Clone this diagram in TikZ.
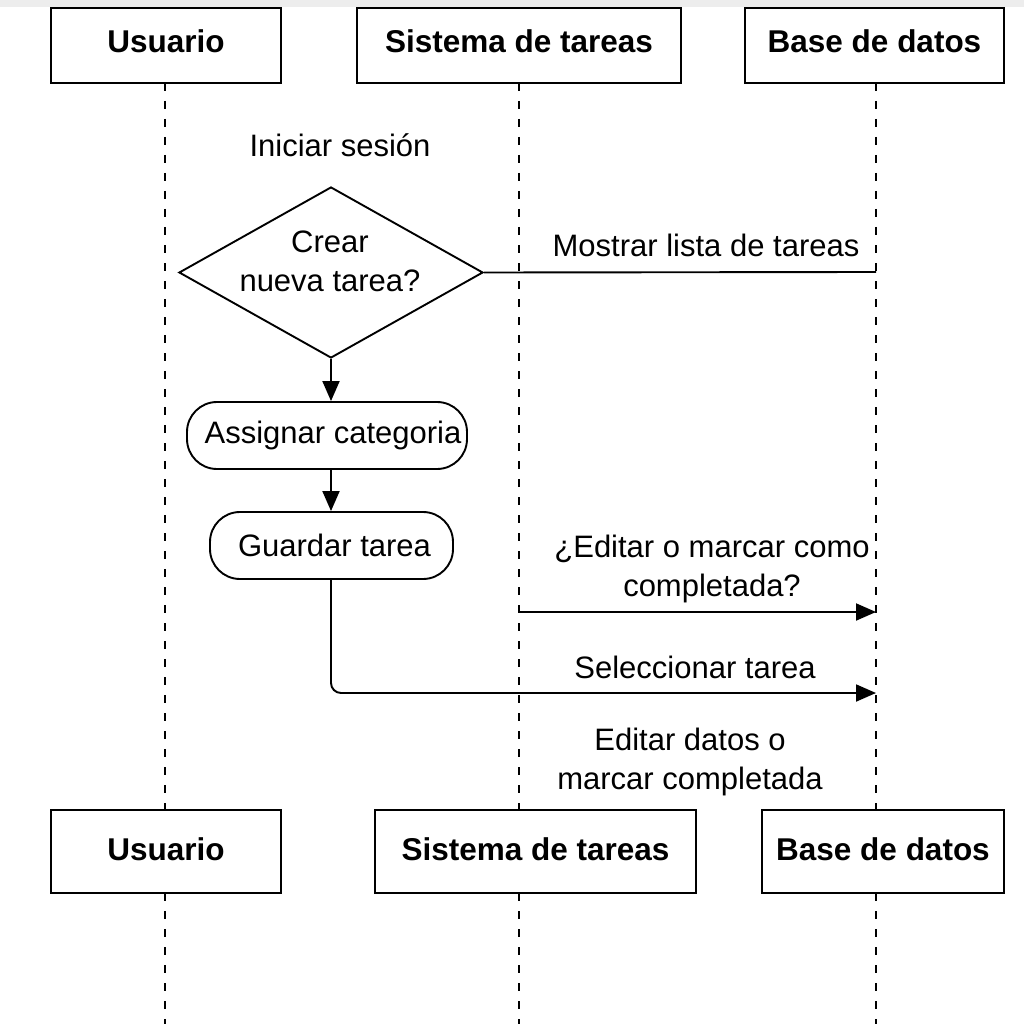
\documentclass[tikz,border=0pt]{standalone}
\usepackage{fontspec}
\setmainfont{Liberation Sans}
\usetikzlibrary{arrows.meta,shapes.geometric}
\begin{document}
\begin{tikzpicture}[x=1pt,y=-1pt,
  actor/.style={draw,line width=1.9pt,fill=white,inner sep=0pt,font=\fontsize{31.5}{36}\selectfont\bfseries},
  life/.style={line width=1.8pt,dash pattern=on 8pt off 10pt},
  lbl/.style={font=\fontsize{31}{39}\selectfont,align=center,inner sep=0pt},
  pill/.style={draw,line width=1.9pt,rounded corners=30pt,fill=white,inner sep=0pt,font=\fontsize{31}{39}\selectfont},
  msg/.style={line width=1.9pt},
  arr/.style={line width=1.9pt,-{Triangle[length=20pt,width=17pt]}}]
\useasboundingbox (0,0) rectangle (1024,1024);
\fill[white] (0,0) rectangle (1024,1024);
\fill[black!7] (0,0) rectangle (1024,7);
% top actors
\node[actor,minimum width=230pt,minimum height=75pt,text depth=9pt] (u1) at (166,45.5) {Usuario};
\node[actor,minimum width=324pt,minimum height=75pt,text depth=9pt] (s1) at (519,45.5) {Sistema de tareas};
\node[actor,minimum width=259pt,minimum height=75pt,text depth=9pt] (b1) at (874.5,45.5) {Base de datos};
% bottom actors positions
\coordinate (u2c) at (166,851.5);
\coordinate (s2c) at (535.5,851.5);
\coordinate (b2c) at (883,851.5);
\coordinate (uend) at (165,1024);
\coordinate (send) at (519,1024);
\coordinate (bend) at (876,1024);
% lifelines
\draw[life] (165,83) -- (uend);
\draw[life] (519,83) -- (send);
\draw[life] (876,83) -- (bend);
% bottom actors
\node[actor,minimum width=230pt,minimum height=83pt,text depth=5pt] (u2) at (u2c) {Usuario};
\node[actor,minimum width=321pt,minimum height=83pt,text depth=5pt] (s2) at (s2c) {Sistema de tareas};
\node[actor,minimum width=242pt,minimum height=83pt,text depth=5pt] (b2) at (b2c) {Base de datos};
% texts
\node[lbl] (ini) at (340,145) {Iniciar sesión};
\node[draw,line width=1.9pt,shape=diamond,fill=white,minimum width=304pt,minimum height=171pt,inner sep=0pt,aspect=1.78] (dec) at (331,272.5) {};
\node[lbl] (dect) at (330,261) {Crear\\nueva tarea?};
\coordinate (m1) at (876,272);
\draw[msg] (dec.east) -- (m1);
\node[lbl] (mostrar) at (706,245) {Mostrar lista de tareas};
\node[pill,minimum width=280pt,minimum height=67pt] (asig) at (327,435.5) {\hspace*{12pt}Assignar categoria};
\node[pill,minimum width=243pt,minimum height=67pt] (guar) at (331.5,545.5) {\hspace*{6pt}Guardar tarea};
\draw[arr] (dec.south) -- (dec.south |- asig.north);
\draw[arr] (dec.south |- asig.south) -- (dec.south |- guar.north);
% edit arrow
\coordinate (e0) at (519,612);
\coordinate (e1) at (876,612);
\draw[arr] (e0) -- (e1);
\node[lbl] (edit) at (712,569) {¿Editar o marcar como\\completada?};
% seleccionar
\coordinate (sel) at (876,693);
\draw[arr,rounded corners=10pt] (dec.south |- guar.south) |- (sel);
\node[lbl] (selt) at (695,667) {Seleccionar tarea};
\node[lbl] (fin) at (690,762) {Editar datos o\\marcar completada};
\end{tikzpicture}
\end{document}
